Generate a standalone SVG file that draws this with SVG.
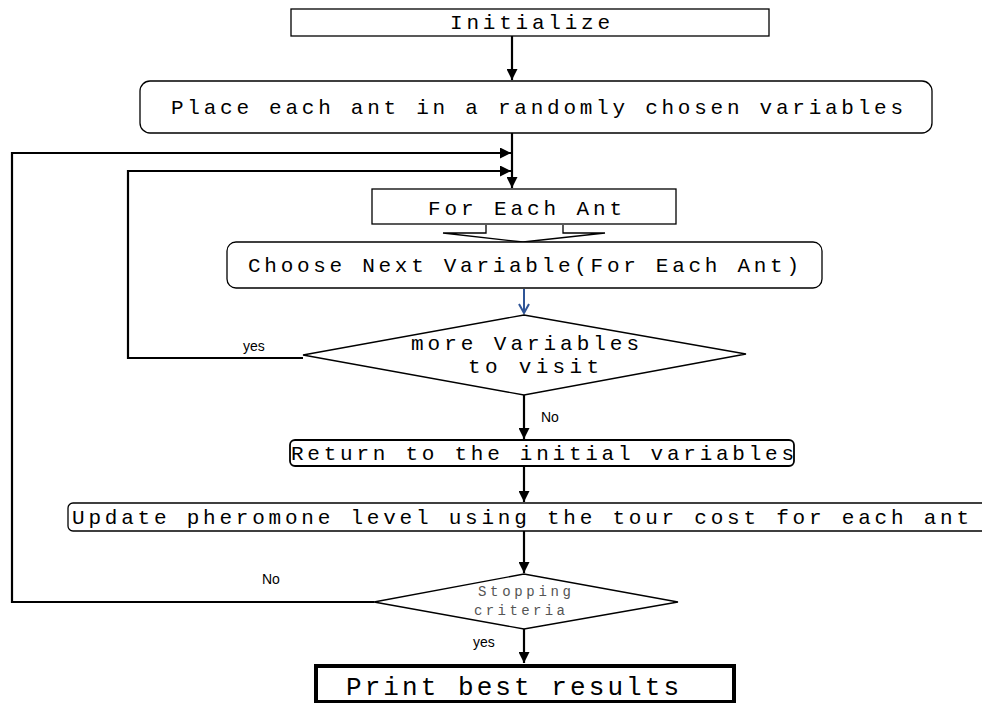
<svg xmlns="http://www.w3.org/2000/svg" width="982" height="703" viewBox="0 0 982 703">
<defs>
<style>
.box{fill:#fff;stroke:#000;stroke-width:1.3}
.mono{font-family:"Liberation Mono","Courier New",monospace;font-size:21px;fill:#000}
.lbl{font-family:"Liberation Sans",Arial,sans-serif;font-size:14px;fill:#000}
.ln{fill:none;stroke:#000;stroke-width:2.2}
.sm{font-family:"Liberation Mono","Courier New",monospace;font-size:14px;fill:#555}
</style>
<marker id="ah" viewBox="0 0 10 10" refX="10" refY="5" markerWidth="5" markerHeight="5" orient="auto" markerUnits="strokeWidth">
<path d="M0,0 L10,5 L0,10 z" fill="#000"/>
</marker>
<marker id="ahb" viewBox="0 0 12 12" refX="10" refY="6" markerWidth="6" markerHeight="6" orient="auto" markerUnits="strokeWidth">
<path d="M1,1 L10,6 L1,11" fill="none" stroke="#2f5597" stroke-width="2"/>
</marker>
</defs>
<rect width="982" height="703" fill="#fff"/>

<g id="connectors">
<line class="ln" x1="512" y1="36" x2="512" y2="80" marker-end="url(#ah)"/>
<line class="ln" x1="512" y1="133" x2="512" y2="188" marker-end="url(#ah)"/>
<polyline class="ln" points="374,602 12,602 12,153 511,153" marker-end="url(#ah)"/>
<polyline class="ln" points="303,358 128,358 128,171 511,171" marker-end="url(#ah)"/>
<line x1="524" y1="289" x2="524" y2="313" stroke="#2f5597" stroke-width="2" marker-end="url(#ahb)"/>
<line class="ln" x1="524" y1="395" x2="524" y2="439" marker-end="url(#ah)"/>
<line class="ln" x1="524" y1="467" x2="524" y2="502" marker-end="url(#ah)"/>
<line class="ln" x1="524" y1="531" x2="524" y2="573" marker-end="url(#ah)"/>
<line class="ln" x1="524" y1="629" x2="524" y2="663" marker-end="url(#ah)"/>
<text class="lbl" x="243" y="351">yes</text>
<text class="lbl" x="541" y="422">No</text>
<text class="lbl" x="262" y="584">No</text>
<text class="lbl" x="473" y="647">yes</text>
</g>

<g id="initialize">
<rect class="box" x="291" y="9" width="478" height="27"/>
<text class="mono" x="450" y="29" textLength="160" lengthAdjust="spacing">Initialize</text>
</g>

<g id="place">
<rect class="box" x="140" y="81" width="792" height="52" rx="10"/>
<text class="mono" x="171" y="114" textLength="732" lengthAdjust="spacing">Place each ant in a randomly chosen variables</text>
</g>

<g id="for-each-ant">
<rect class="box" x="372" y="189" width="304" height="35"/>
<text class="mono" x="428" y="215" textLength="194" lengthAdjust="spacing">For Each Ant</text>
<path d="M486,225 L486,233 L443,233 L523,242 L605,233 L563,233 L563,225" fill="#fff" stroke="#000" stroke-width="1.3"/>
</g>

<g id="choose">
<rect class="box" x="227" y="242" width="595" height="46" rx="9"/>
<text class="mono" x="248" y="272" textLength="551" lengthAdjust="spacing">Choose Next Variable(For Each Ant)</text>
</g>

<g id="more-variables">
<polygon class="box" points="303,355 524,315 746,354 524,395"/>
<text class="mono" x="411" y="350" textLength="228" lengthAdjust="spacing">more Variables</text>
<text class="mono" x="468" y="373" textLength="131" lengthAdjust="spacing">to visit</text>
</g>

<g id="return">
<rect x="290" y="440" width="504" height="26" rx="5" fill="#fff" stroke="#000" stroke-width="1.8"/>
<text class="mono" x="291" y="460" textLength="503" lengthAdjust="spacing">Return to the initial variables</text>
</g>

<g id="update">
<rect class="box" x="68" y="503" width="930" height="28" rx="5"/>
<text class="mono" x="72" y="524" textLength="897" lengthAdjust="spacing">Update pheromone level using the tour cost for each ant</text>
</g>

<g id="stopping">
<polygon class="box" points="374,602 524,574 678,602 524,629"/>
<text class="sm" x="478" y="596" textLength="93" lengthAdjust="spacing">Stopping</text>
<text class="sm" x="474" y="615" textLength="91" lengthAdjust="spacing">criteria</text>
</g>

<g id="print">
<rect x="316" y="666" width="418" height="36" fill="#fff" stroke="#000" stroke-width="4"/>
<text x="346" y="695" font-family="Liberation Mono, monospace" font-size="26" fill="#000" textLength="333" lengthAdjust="spacing">Print best results</text>
</g>
</svg>
